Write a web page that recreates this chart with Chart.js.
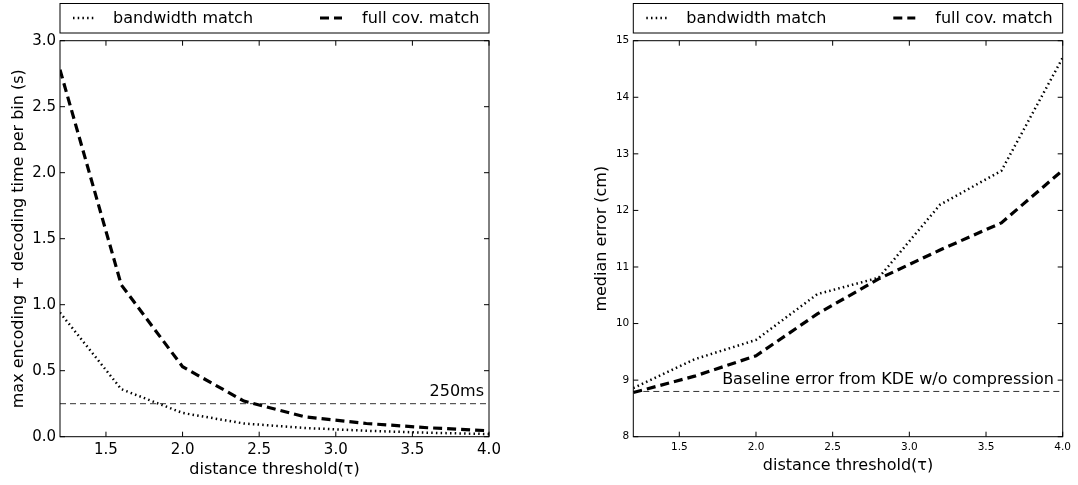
<!DOCTYPE html>
<html>
<head>
<meta charset="utf-8">
<script src="https://cdn.jsdelivr.net/npm/chart.js@4.4.1/dist/chart.umd.min.js"></script>
<style>
  body { margin: 0; background: #fff; }
  .panel { position: absolute; top: 0; }
</style>
</head>
<body>
<div class="panel" style="left:0"><canvas id="timeChart" width="540" height="485"></canvas></div>
<div class="panel" style="left:540px"><canvas id="errorChart" width="538" height="485"></canvas></div>
<script>
const thresholds = [1.2, 1.6, 2.0, 2.4, 2.8, 3.2, 3.6, 4.0]
const bandwidthTime = [0.94, 0.36, 0.18, 0.10, 0.066, 0.045, 0.03, 0.02]
const fullCovTime = [2.78, 1.15, 0.53, 0.27, 0.15, 0.10, 0.068, 0.045]
const bandwidthError = [8.86, 9.37, 9.71, 10.52, 10.81, 12.1, 12.7, 14.7]
const fullCovError = [8.78, 9.07, 9.43, 10.17, 10.79, 11.3, 11.78, 12.71]
const timeLimit = 0.25
const baselineError = 8.8
const xTicks = [1.5, 2.0, 2.5, 3.0, 3.5, 4.0]
const timeTicks = [0, 0.5, 1.0, 1.5, 2.0, 2.5, 3.0]
const errorTicks = [8, 9, 10, 11, 12, 13, 14, 15]

const FONT = 'DejaVu Sans'

function points(ys) {
  return thresholds.map((x, i) => ({x: x, y: ys[i]}))
}

// matplotlib style box: frame plus inward ticks on every side
const framePlugin = {
  id: 'frame',
  afterDatasetsDraw(chart) {
    const {ctx, chartArea: a, scales} = chart
    ctx.save()
    ctx.strokeStyle = '#000'
    ctx.lineWidth = 1
    ctx.strokeRect(a.left, a.top, a.width, a.height)
    ctx.beginPath()
    scales.x.ticks.forEach(t => {
      const px = scales.x.getPixelForValue(t.value)
      ctx.moveTo(px, a.bottom)
      ctx.lineTo(px, a.bottom - 5)
      ctx.moveTo(px, a.top)
      ctx.lineTo(px, a.top + 5)
    })
    scales.y.ticks.forEach(t => {
      const py = scales.y.getPixelForValue(t.value)
      ctx.moveTo(a.left, py)
      ctx.lineTo(a.left + 5, py)
      ctx.moveTo(a.right, py)
      ctx.lineTo(a.right - 5, py)
    })
    ctx.stroke()
    ctx.restore()
  }
}

const boxLegendPlugin = {
  id: 'boxLegend',
  afterDraw(chart) {
    const {ctx, chartArea: a} = chart
    const items = chart.data.datasets.filter(d => d.inLegend)
    const slots = [{line: 13, text: 53}, {line: 260, text: 302}]
    ctx.save()
    ctx.strokeStyle = '#000'
    ctx.lineWidth = 1
    ctx.strokeRect(a.left, 3.5, a.width, 29.5)
    ctx.font = `16px "${FONT}"`
    ctx.fillStyle = '#000'
    ctx.textBaseline = 'middle'
    items.forEach((d, i) => {
      const s = slots[i]
      ctx.beginPath()
      ctx.setLineDash(d.borderDash)
      ctx.lineWidth = d.borderWidth
      ctx.lineCap = 'butt'
      ctx.moveTo(a.left + s.line, 18)
      ctx.lineTo(a.left + s.line + 22, 18)
      ctx.stroke()
      ctx.setLineDash([])
      ctx.fillText(d.label, a.left + s.text, 18.5)
    })
    ctx.restore()
  }
}

const notePlugin = {
  id: 'note',
  afterDatasetsDraw(chart, args, opts) {
    if (!opts.text) return
    const {ctx, chartArea: a, scales} = chart
    const py = scales.y.getPixelForValue(opts.value)
    ctx.save()
    ctx.font = `16px "${FONT}"`
    ctx.fillStyle = '#000'
    ctx.textAlign = 'right'
    ctx.textBaseline = 'middle'
    ctx.fillText(opts.text, a.right - opts.inset, py - 12)
    ctx.restore()
  }
}

function makeChart(id, cfg) {
  const datasets = [
    {
      label: 'bandwidth match',
      inLegend: true,
      data: points(cfg.bandwidth),
      borderColor: '#000',
      borderWidth: 2.5,
      borderDash: [1.5, 3.2],
      borderCapStyle: 'butt',
      pointRadius: 0,
      tension: 0,
    },
    {
      label: 'full cov. match',
      inLegend: true,
      data: points(cfg.fullCov),
      borderColor: '#000',
      borderWidth: 3.2,
      borderDash: [9, 5],
      borderCapStyle: 'butt',
      pointRadius: 0,
      tension: 0,
    },
    {
      label: cfg.noteText,
      data: [{x: thresholds[0], y: cfg.refValue}, {x: thresholds[thresholds.length - 1], y: cfg.refValue}],
      borderColor: '#333',
      borderWidth: 1,
      borderDash: [6, 4],
      pointRadius: 0,
    },
  ]

  return new Chart(document.getElementById(id).getContext('2d'), {
    type: 'line',
    data: {datasets: datasets},
    plugins: [framePlugin, boxLegendPlugin, notePlugin],
    options: {
      responsive: false,
      animation: false,
      layout: {padding: {top: 40.7, right: cfg.rightPad, bottom: 0, left: 0}},
      scales: {
        x: {
          type: 'linear',
          min: 1.2,
          max: 4.0,
          afterBuildTicks: scale => { scale.ticks = xTicks.map(v => ({value: v})) },
          afterFit: scale => { scale.height = 48.3 },
          grid: {display: false, drawTicks: false},
          border: {display: false},
          ticks: {
            font: {family: FONT, size: cfg.tickSize},
            color: '#000',
            padding: cfg.xTickPad,
            maxRotation: 0,
            callback: v => v.toFixed(1),
          },
          title: {
            display: true,
            text: 'distance threshold(τ)',
            font: {family: FONT, size: 16},
            color: '#000',
            padding: {top: 0, bottom: cfg.xTitlePad},
          },
        },
        y: {
          min: cfg.yTicks[0],
          max: cfg.yTicks[cfg.yTicks.length - 1],
          afterBuildTicks: scale => { scale.ticks = cfg.yTicks.map(v => ({value: v})) },
          afterFit: scale => { scale.width = cfg.yWidth },
          grid: {display: false, drawTicks: false},
          border: {display: false},
          ticks: {
            font: {family: FONT, size: cfg.yTickSize},
            color: '#000',
            padding: 4,
            callback: cfg.yFormat,
          },
          title: {
            display: true,
            text: cfg.yTitle,
            font: {family: FONT, size: 16},
            color: '#000',
            padding: {top: cfg.yTitlePad, bottom: 0},
          },
        },
      },
      plugins: {
        legend: {display: false},
        tooltip: {enabled: false},
        note: {text: cfg.noteText, value: cfg.refValue, inset: cfg.noteInset},
      },
    },
  })
}

document.addEventListener('DOMContentLoaded', () => {
  makeChart('timeChart', {
    bandwidth: bandwidthTime,
    fullCov: fullCovTime,
    refValue: timeLimit,
    noteText: '250ms',
    noteInset: 5,
    yTicks: timeTicks,
    yFormat: v => v.toFixed(1),
    yTitle: 'max encoding + decoding time per bin (s)',
    yWidth: 60,
    yTitlePad: 9,
    yTickSize: 15,
    tickSize: 15,
    xTickPad: 4,
    xTitlePad: 5.4,
    rightPad: 51,
  })

  makeChart('errorChart', {
    bandwidth: bandwidthError,
    fullCov: fullCovError,
    refValue: baselineError,
    noteText: 'Baseline error from KDE w/o compression',
    noteInset: 8.7,
    yTicks: errorTicks,
    yFormat: v => String(v),
    yTitle: 'median error (cm)',
    yWidth: 93.3,
    yTitlePad: 52.4,
    yTickSize: 10.5,
    tickSize: 10.5,
    xTickPad: 4,
    xTitlePad: 9.7,
    rightPad: 15.3,
  })
})
</script>
</body>
</html>
